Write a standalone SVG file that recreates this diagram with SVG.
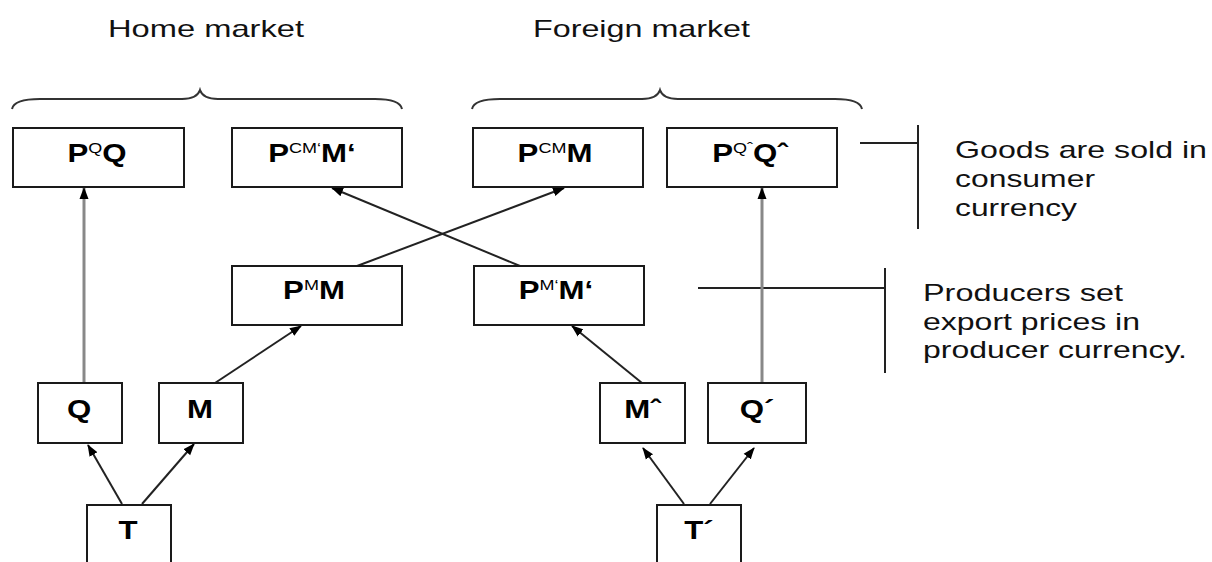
<svg xmlns="http://www.w3.org/2000/svg" width="1212" height="562" viewBox="0 0 1212 562">
<style>
.box{fill:#fff;stroke:#1a1a1a;stroke-width:2}
.lbl{font-family:"Liberation Sans",Arial,sans-serif;font-weight:bold;font-size:26px;fill:#000}
.sup{font-weight:normal;font-size:15px}
.txt{font-family:"Liberation Sans",Arial,sans-serif;font-size:24px;fill:#111}
.brace{fill:none;stroke:#333;stroke-width:2}
.ln{fill:none;stroke:#222;stroke-width:2}
.arr{fill:none;stroke:#222;stroke-width:2;marker-end:url(#ah)}
.garr{fill:none;stroke:#888;stroke-width:3;marker-end:url(#ah)}
</style>
<defs>
<marker id="ah" markerUnits="userSpaceOnUse" markerWidth="12" markerHeight="10" refX="11" refY="5" orient="auto">
<path d="M0,0.5 L12,5 L0,9.5 z" fill="#000"/>
</marker>
</defs>
<rect width="1212" height="562" fill="#fff"/>

<g id="titles">
<text class="txt" x="108" y="37" textLength="196" lengthAdjust="spacingAndGlyphs">Home market</text>
<text class="txt" x="533" y="37" textLength="217" lengthAdjust="spacingAndGlyphs">Foreign market</text>
<path class="brace" d="M12,109 Q14,99 40,99 L182,99 Q197,99 200,90 Q203,99 218,99 L375,99 Q400,99 402,109"/>
<path class="brace" d="M472,109 Q474,99 500,99 L642,99 Q657,99 660,90 Q663,99 678,99 L835,99 Q860,99 862,109"/>
</g>

<g id="notes">
<path class="ln" d="M860,143 H918 M918,125 V229"/>
<text class="txt" x="955" y="158" textLength="252" lengthAdjust="spacingAndGlyphs">Goods are sold in</text>
<text class="txt" x="955" y="187" textLength="140" lengthAdjust="spacingAndGlyphs">consumer</text>
<text class="txt" x="955" y="216" textLength="122" lengthAdjust="spacingAndGlyphs">currency</text>
<path class="ln" d="M698,288 H885 M885,268 V373"/>
<text class="txt" x="923" y="301" textLength="200" lengthAdjust="spacingAndGlyphs">Producers set</text>
<text class="txt" x="923" y="330" textLength="217" lengthAdjust="spacingAndGlyphs">export prices in</text>
<text class="txt" x="923" y="358" textLength="264" lengthAdjust="spacingAndGlyphs">producer currency.</text>
</g>

<g id="connectors">
<path class="garr" d="M84,383 V188"/>
<path class="garr" d="M762,383 V188"/>
<path class="arr" d="M357,266 L564,188"/>
<path class="arr" d="M520,266 L332,188"/>
<path class="arr" d="M215,383 L301,326"/>
<path class="arr" d="M642,383 L572,326"/>
<path class="arr" d="M122,504 L88,445"/>
<path class="arr" d="M142,504 L194,444"/>
<path class="arr" d="M684,504 L643,448"/>
<path class="arr" d="M710,504 L754,448"/>
</g>

<g id="n-pqq"><rect class="box" x="13" y="128" width="171" height="59"/>
<g transform="translate(97,162) scale(1.2,1)"><text class="lbl" text-anchor="middle">P<tspan class="sup" dy="-9">Q</tspan><tspan dy="9">Q</tspan></text></g></g>
<g id="n-pcmm2"><rect class="box" x="232" y="128" width="170" height="59"/>
<g transform="translate(312,162) scale(1.2,1)"><text class="lbl" text-anchor="middle">P<tspan class="sup" dy="-9">CM‘</tspan><tspan dy="9">M‘</tspan></text></g></g>
<g id="n-pcmm"><rect class="box" x="473" y="128" width="170" height="59"/>
<g transform="translate(555,162) scale(1.2,1)"><text class="lbl" text-anchor="middle">P<tspan class="sup" dy="-9">CM</tspan><tspan dy="9">M</tspan></text></g></g>
<g id="n-pqq2"><rect class="box" x="667" y="128" width="170" height="59"/>
<g transform="translate(750,162) scale(1.2,1)"><text class="lbl" text-anchor="middle">P<tspan class="sup" dy="-9">Qˆ</tspan><tspan dy="9">Qˆ</tspan></text></g></g>

<g id="n-pmm"><rect class="box" x="232" y="266" width="170" height="59"/>
<g transform="translate(314,299) scale(1.2,1)"><text class="lbl" text-anchor="middle">P<tspan class="sup" dy="-9">M</tspan><tspan dy="9">M</tspan></text></g></g>
<g id="n-pmm2"><rect class="box" x="474" y="266" width="170" height="59"/>
<g transform="translate(556,299) scale(1.2,1)"><text class="lbl" text-anchor="middle">P<tspan class="sup" dy="-9">M‘</tspan><tspan dy="9">M‘</tspan></text></g></g>

<g id="n-q"><rect class="box" x="38" y="383" width="84" height="60"/>
<g transform="translate(79,418) scale(1.2,1)"><text class="lbl" text-anchor="middle">Q</text></g></g>
<g id="n-m"><rect class="box" x="159" y="383" width="84" height="60"/>
<g transform="translate(200,418) scale(1.2,1)"><text class="lbl" text-anchor="middle">M</text></g></g>
<g id="n-m2"><rect class="box" x="600" y="383" width="85" height="60"/>
<g transform="translate(642.5,418) scale(1.2,1)"><text class="lbl" text-anchor="middle">Mˆ</text></g></g>
<g id="n-q2"><rect class="box" x="708" y="383" width="98" height="60"/>
<g transform="translate(757,418) scale(1.2,1)"><text class="lbl" text-anchor="middle">Q´</text></g></g>

<g id="n-t"><rect class="box" x="87" y="505" width="84" height="70"/>
<g transform="translate(128,539) scale(1.2,1)"><text class="lbl" text-anchor="middle">T</text></g></g>
<g id="n-t2"><rect class="box" x="657" y="505" width="84" height="70"/>
<g transform="translate(699,539) scale(1.2,1)"><text class="lbl" text-anchor="middle">T´</text></g></g>
</svg>
